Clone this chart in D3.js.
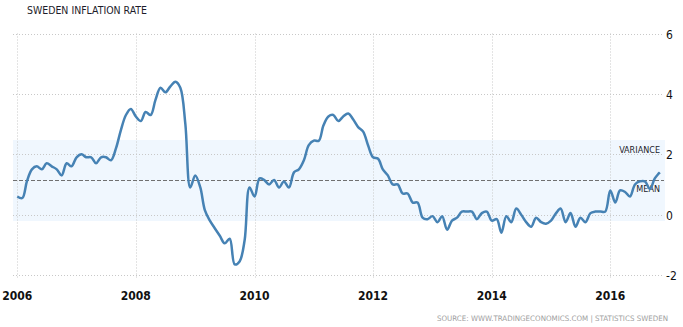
<!DOCTYPE html>
<html>
<head>
<meta charset="utf-8">
<script src="https://cdn.jsdelivr.net/npm/d3@7"></script>
<style>
  body { margin: 0; background: #fff; }
  svg { display: block; }
</style>
</head>
<body>
<div id="chart"></div>
<script>
// monthly annual CPI change, Jan 2006 .. Nov 2016
const firstMonth = new Date(2006, 0, 1);
const inflation = [
  0.6, 0.55, 1.1, 1.5, 1.6, 1.5, 1.7, 1.6, 1.5, 1.3, 1.7, 1.6,
  1.9, 2.0, 1.9, 1.9, 1.7, 1.9, 1.9, 1.8, 2.2, 2.8, 3.3, 3.5,
  3.25, 3.1, 3.4, 3.3, 3.8, 4.2, 4.05, 4.25, 4.4, 4.2, 3.0, 0.9,
  1.3, 0.9, 0.15, -0.2, -0.45, -0.7, -0.95, -0.8, -1.65, -1.55, -0.85, 0.9,
  0.6, 1.2, 1.15, 1.0, 1.15, 0.9, 1.1, 0.9, 1.4, 1.5, 1.8, 2.3,
  2.45, 2.45, 2.95, 3.25, 3.3, 3.1, 3.25, 3.35, 3.15, 2.9, 2.75, 2.3,
  1.9, 1.85, 1.5, 1.3, 1.0, 1.0, 0.7, 0.7, 0.4, 0.4, -0.1, -0.15,
  -0.05, -0.25, -0.05, -0.5, -0.2, -0.1, 0.1, 0.1, 0.1, -0.15, 0.05, 0.1,
  -0.2, -0.15, -0.6, -0.05, -0.25, 0.2, 0.0, -0.25, -0.4, -0.1, -0.25, -0.3,
  -0.2, 0.05, 0.2, -0.25, 0.05, -0.4, -0.1, -0.25, 0.05, 0.1, 0.1, 0.1,
  0.8, 0.4, 0.8, 0.75, 0.6, 1.0, 1.1, 1.1, 0.85, 1.2, 1.4
];
const xTickYears = [2006, 2008, 2010, 2012, 2014, 2016];
const yTicks = [-2, 0, 2, 4, 6];
const meanRate = [1.14];
const varianceBand = [-0.21, 2.47];

const width = 683, height = 327;
const left = 13, right = 664;

const data = inflation.map((v, i) => ({
  date: d3.timeMonth.offset(firstMonth, i),
  value: v
}));

const x = d3.scaleTime()
  .domain([new Date(2006, 0, 1), new Date(2016, 0, 1)])
  .range([17.3, 610.3]);

const y = d3.scaleLinear()
  .domain([-2, 6])
  .range([275, 33.5]);

const svg = d3.select("#chart")
  .append("svg")
  .attr("width", width)
  .attr("height", height)
  .style("font-family", "'DejaVu Sans Condensed', 'DejaVu Sans', sans-serif");

// variance band
svg.append("rect")
  .attr("x", left)
  .attr("width", right - left + 1)
  .attr("y", y(varianceBand[1]))
  .attr("height", y(varianceBand[0]) - y(varianceBand[1]))
  .attr("fill", "#f0f7fe");

// horizontal grid
svg.selectAll("line.hgrid")
  .data(yTicks)
  .enter().append("line")
  .attr("class", "hgrid")
  .attr("x1", left).attr("x2", right - 1)
  .attr("y1", d => Math.round(y(d)) + 0.5)
  .attr("y2", d => Math.round(y(d)) + 0.5)
  .attr("stroke", "#c8c8c8")
  .attr("stroke-dasharray", "1,2");

// vertical grid
const yearDates = xTickYears.map(yr => new Date(yr, 0, 1));
svg.selectAll("line.vgrid")
  .data(yearDates)
  .enter().append("line")
  .attr("class", "vgrid")
  .attr("x1", d => Math.round(x(d)) + 0.5)
  .attr("x2", d => Math.round(x(d)) + 0.5)
  .attr("y1", y(6))
  .attr("y2", 279)
  .attr("stroke", "#c8c8c8")
  .attr("stroke-dasharray", "1,2");

// mean line
svg.append("line")
  .attr("x1", left).attr("x2", right)
  .attr("y1", Math.round(y(meanRate[0])) + 0.5)
  .attr("y2", Math.round(y(meanRate[0])) + 0.5)
  .attr("stroke", "#707070")
  .attr("stroke-dasharray", "4,2");

svg.append("text")
  .attr("x", 660).attr("y", y(varianceBand[1]) + 12.5)
  .attr("text-anchor", "end")
  .style("font-size", "9px")
  .attr("fill", "#1c1c2a")
  .text("VARIANCE");

svg.append("text")
  .attr("x", 660).attr("y", y(meanRate[0]) + 12)
  .attr("text-anchor", "end")
  .style("font-size", "9px")
  .attr("fill", "#1c1c2a")
  .text("MEAN");

// the line
const line = d3.line()
  .x(d => x(d.date))
  .y(d => y(d.value))
  .curve(d3.curveCatmullRom.alpha(0.5));

svg.append("path")
  .datum(data)
  .attr("d", line)
  .attr("fill", "none")
  .attr("stroke", "#4682b4")
  .attr("stroke-width", 2.5)
  .attr("stroke-linejoin", "round");

// right axis labels
svg.selectAll("text.ylab")
  .data(yTicks)
  .enter().append("text")
  .attr("class", "ylab")
  .attr("x", 666)
  .attr("y", d => y(d) + 5)
  .style("font-size", "12px")
  .attr("fill", "#111")
  .text(d => d);

// bottom labels
svg.selectAll("text.xlab")
  .data(yearDates)
  .enter().append("text")
  .attr("class", "xlab")
  .attr("x", d => x(d))
  .attr("y", 300)
  .attr("text-anchor", "middle")
  .style("font-size", "12px")
  .style("font-weight", "bold")
  .attr("fill", "#111")
  .text(d => d3.timeFormat("%Y")(d));

// title and source
svg.append("text")
  .attr("x", 27).attr("y", 13.5)
  .style("font-size", "11px")
  .attr("fill", "#1c1c2a")
  .attr("textLength", 120)
  .attr("lengthAdjust", "spacingAndGlyphs")
  .text("SWEDEN INFLATION RATE");

svg.append("text")
  .attr("x", 437).attr("y", 321)
  .style("font-size", "7.5px")
  .attr("fill", "#a0a0a0")
  .attr("textLength", 231)
  .attr("lengthAdjust", "spacingAndGlyphs")
  .text("SOURCE: WWW.TRADINGECONOMICS.COM | STATISTICS SWEDEN");
</script>
</body>
</html>
